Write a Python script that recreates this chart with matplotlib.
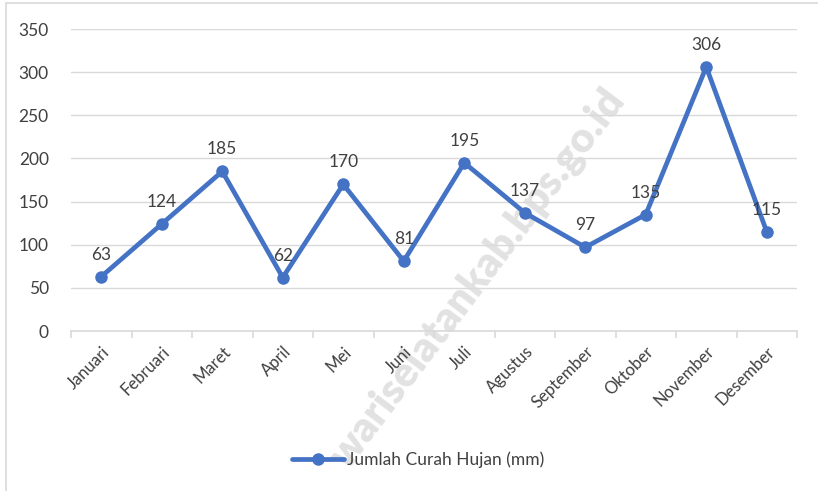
import matplotlib.pyplot as plt
from matplotlib.patches import Rectangle

bulan = ['Januari', 'Februari', 'Maret', 'April', 'Mei', 'Juni', 'Juli',
         'Agustus', 'September', 'Oktober', 'November', 'Desember']
curah_hujan = [63, 124, 185, 62, 170, 81, 195, 137, 97, 135, 306, 115]
label_seri = 'Jumlah Curah Hujan (mm)'

biru = '#4472C4'
teks = '#404040'
plt.rcParams['font.family'] = ['Lato', 'DejaVu Sans']

fig = plt.figure(figsize=(8.18, 4.91), dpi=100)
ax = fig.add_axes([71/818, 1-331/491, 726/818, 302/491])

# border of chart area
fig.patches.append(Rectangle((6/818, -0.05), 1.0, 1-3/491+0.05, transform=fig.transFigure,
                             fill=False, edgecolor='#d9d9d9', linewidth=1.2))

# watermark
ax.text(478/818, 1-278/491, 'wariselatankab.bps.go.id', transform=fig.transFigure,
        rotation=53, ha='center', va='center', fontsize=30, fontweight='heavy',
        color='#e2e2e2', zorder=0.5, clip_on=False)

x = list(range(len(bulan)))
ax.plot(x, curah_hujan, color=biru, linewidth=3.4, marker='o', markersize=8,
        label=label_seri, zorder=3, solid_capstyle='round')
for xi, v in zip(x, curah_hujan):
    ax.annotate(str(v), (xi, v), xytext=(0, 10), textcoords='offset points',
                ha='center', va='bottom', fontsize=12.5, color=teks, zorder=4)

ax.set_xlim(-0.5, len(bulan) - 0.5)
ax.set_ylim(0, 350)
ax.set_yticks(range(0, 351, 50))
ax.grid(axis='y', color='#d9d9d9', linewidth=1)
ax.set_axisbelow(True)
for s in ['top', 'right', 'left']:
    ax.spines[s].set_visible(False)
ax.spines['bottom'].set_color('#d9d9d9')
ax.spines['bottom'].set_linewidth(1.2)

ax.set_xticks(x)
ax.set_xticklabels(bulan, rotation=45, ha='right', rotation_mode='anchor')
ax.set_xticks([i - 0.5 for i in range(len(bulan) + 1)], minor=True)
ax.tick_params(axis='x', which='major', length=0, pad=9, labelsize=12, labelcolor=teks)
ax.tick_params(axis='x', which='minor', length=5, color='#d9d9d9', width=1.2)
ax.tick_params(axis='y', length=0, pad=16, labelsize=12.5, labelcolor=teks)

ax.legend(loc='center', bbox_to_anchor=(418/818, 1-460/491), bbox_transform=fig.transFigure,
          frameon=False, fontsize=12.5, labelcolor=teks, handlelength=3, handletextpad=0.2)

fig.savefig('out.png', dpi=100)
